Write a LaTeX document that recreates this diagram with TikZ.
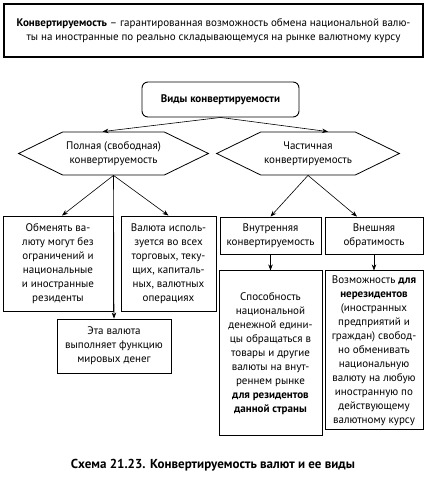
\documentclass[tikz,border=0pt]{standalone}
\usepackage{fontspec}
\setmainfont{PT Sans}
\usetikzlibrary{shapes.symbols, arrows.meta, positioning, calc}

\begin{document}
\begin{tikzpicture}[x=1pt, y=-1pt,
  box/.style={draw, line width=0.9pt, rectangle, align=center, inner sep=2pt, font=\fontsize{11}{14}\selectfont},
  hexbox/.style={draw, line width=0.8pt, signal, signal to=east and west, signal pointer angle=52, minimum width=171pt, minimum height=43pt, align=center, font=\fontsize{11}{14}\selectfont},
  arrow/.style={line width=0.6pt, -{Stealth[length=6pt, width=4.5pt]}}
]
  \useasboundingbox (0,0) rectangle (428,482);

  \node (def) [box, minimum width=419pt, minimum height=53pt, line width=1.1pt] at (213.5,30.5) {\textbf{Конвертируемость} – гарантированная возможность обмена национальной валю-\\ты на иностранные по реально складывающемуся на рынке валютному курсу};
  \node (types) [box, rounded corners=6pt, minimum width=157pt, minimum height=35pt, below=24pt of def, xshift=7pt] {\textbf{Виды конвертируемости}};
  \node (full) [hexbox] at (113.5,153.5) {Полная (свободная)\\конвертируемость};
  \node (part) [hexbox, minimum width=170pt] at (308,153.5) {Частичная\\конвертируемость};

  \node (b1) [box, minimum width=110pt, minimum height=95pt] at (58,263.5) {Обменять ва-\\люту могут без\\ограничений и\\национальные\\и иностранные\\резиденты};
  \node (b2) [box, minimum width=95pt, minimum height=95pt] at (168.5,263.5) {Валюта исполь-\\зуется во всех\\торговых, теку-\\щих, капиталь-\\ных, валютных\\операциях};
  \node (b3) [box, minimum width=114pt, minimum height=54pt] at (114,346) {Эта валюта\\выполняет функцию\\мировых денег};

  \node (inner) [box, minimum width=101pt, minimum height=37pt] at (270.5,235.5) {Внутренняя\\конвертируемость};
  \node (outer) [box, minimum width=98pt, minimum height=37pt] at (374,235.5) {Внешняя\\обратимость};
  \node (sp) [box, minimum width=103pt, minimum height=165pt, below=16pt of inner] {Способность\\национальной\\денежной едини-\\цы обращаться в\\товары и другие\\валюты на внут-\\реннем рынке\\\textbf{для резидентов}\\\textbf{данной страны}};
  \node (voz) [box, minimum width=98pt, minimum height=159pt, below=16pt of outer] {Возможность \textbf{для}\\\textbf{нерезидентов}\\(иностранных\\предприятий и\\граждан) свобод-\\но обменивать\\национальную\\валюту на любую\\иностранную по\\действующему\\валютному курсу};

  \node (caption) [font=\fontsize{13}{15}\selectfont\bfseries] at (213,465) {Схема 21.23. Конвертируемость валют и ее виды};

  \draw [arrow] (types.south) -- ($(full.north)+(-11,0)$);
  \draw [arrow] (types.south) -- ($(part.north)+(20,0)$);
  \draw [arrow] (full.south) -- ($(b1.north)+(4,0)$);
  \draw [arrow] (full.south) -- (b2.north);
  \draw [arrow] (full.south) -- (b3.north);
  \draw [arrow] (part.south) -- (inner.north);
  \draw [arrow] (part.south) -- ($(outer.north)+(-17,0)$);
  \draw [arrow] (inner.south) -- (sp.north);
  \draw [arrow] (outer.south) -- (voz.north);
\end{tikzpicture}
\end{document}
